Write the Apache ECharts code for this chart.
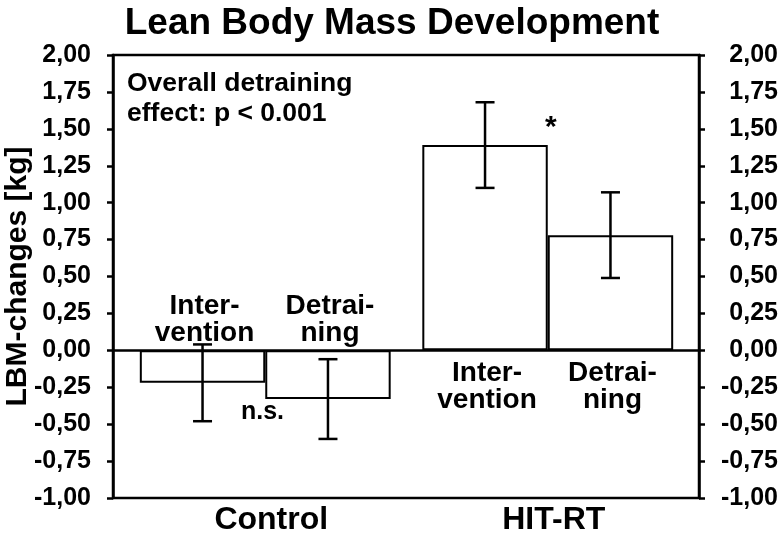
<!DOCTYPE html>
<html>
<head>
<meta charset="utf-8">
<script src="https://cdn.jsdelivr.net/npm/echarts@6/dist/echarts.min.js"></script>
<style>html,body{margin:0;padding:0;background:#fff}#c{width:784px;height:536px}</style>
</head>
<body>
<div id="c"></div>
<script>
const categories = ['Control', 'HIT-RT'];
const phaseLabels = ['Inter-\nvention', 'Detrai-\nning'];
const interventionMean = [-0.22, 1.39];
const interventionErr = [0.26, 0.29];
const detrainingMean = [-0.33, 0.78];
const detrainingErr = [0.27, 0.29];
const yMin = -1, yMax = 2, yStep = 0.25;
const titleText = 'Lean Body Mass Development';
const yName = 'LBM-changes [kg]';
const noteText = 'Overall detraining\neffect: p < 0.001';
const nsText = 'n.s.';
const starText = '*';

const FF = '"Liberation Sans", Arial, sans-serif';
const chart = echarts.init(document.getElementById('c'), null, {renderer: 'canvas'});
const fmt = v => v.toFixed(2).replace('.', ',');
const BAR_FRAC = 0.444;

function errSeries(means, errs, sign) {
  return {
    type: 'custom', xAxisIndex: 1, yAxisIndex: 2, z: 5,
    data: categories.map((c, i) => [i, means[i], errs[i]]),
    renderItem: function (params, api) {
      const x = api.value(0), m = api.value(1), e = api.value(2);
      const band = api.size([1, 0])[0];
      const off = sign * band * BAR_FRAC / 2;
      const t = api.coord([x, m + e]), b = api.coord([x, m - e]);
      const cx = t[0] + off, hw = 9.5;
      const st = {stroke: '#000', lineWidth: 2.5};
      return {type: 'group', children: [
        {type: 'line', shape: {x1: cx, y1: t[1], x2: cx, y2: b[1]}, style: st},
        {type: 'line', shape: {x1: cx - hw, y1: t[1], x2: cx + hw, y2: t[1]}, style: st},
        {type: 'line', shape: {x1: cx - hw, y1: b[1], x2: cx + hw, y2: b[1]}, style: st}
      ]};
    }
  };
}
function labelSeries(means, text, sign) {
  return {
    type: 'custom', xAxisIndex: 1, yAxisIndex: 2, z: 6,
    data: categories.map((c, i) => [i, means[i]]),
    renderItem: function (params, api) {
      const x = api.value(0), m = api.value(1);
      const band = api.size([1, 0])[0];
      const off = sign * band * BAR_FRAC / 2;
      const p = api.coord([x, 0]);
      const above = m < 0;
      return {type: 'text', style: {
        text: text, x: p[0] + off + 2, y: above ? p[1] - 4 : p[1] + 9,
        align: 'center', verticalAlign: above ? 'bottom' : 'top',
        fill: '#000', font: 'bold 28px ' + FF, lineHeight: 27
      }};
    }
  };
}

const labelStyle = {color: '#000', fontSize: 25, fontWeight: 'bold', fontFamily: FF};

chart.setOption({
  backgroundColor: '#fff',
  animation: false,
  title: {text: titleText, left: 'center', top: 0,
    textStyle: {color: '#000', fontSize: 37, fontWeight: 'bold', fontFamily: FF}},
  grid: [
    {left: 113, right: 85, top: 55, bottom: 38, containLabel: false, outerBoundsMode: 'none',
      show: true, borderColor: '#000', borderWidth: 2.5, backgroundColor: 'transparent'},
    {left: 124, right: 95, top: 55, bottom: 38, containLabel: false, outerBoundsMode: 'none'}
  ],
  xAxis: [
    {gridIndex: 0, type: 'value', min: 0, max: 1,
      axisLine: {show: true, onZero: true, lineStyle: {color: '#000', width: 2.5}},
      axisTick: {show: false}, axisLabel: {show: false}, splitLine: {show: false}},
    {gridIndex: 1, type: 'category', data: categories,
      axisLine: {show: false}, axisTick: {show: false}, splitLine: {show: false},
      axisLabel: {color: '#000', fontSize: 32, fontWeight: 'bold', fontFamily: FF, margin: 6, padding: [0, 0, 0, 12]}}
  ],
  yAxis: [
    {gridIndex: 0, type: 'value', position: 'left', min: yMin, max: yMax, interval: yStep,
      axisLine: {show: true, lineStyle: {color: '#000', width: 2.5}},
      axisTick: {show: true, inside: false, length: 6, lineStyle: {color: '#000', width: 2.5}},
      axisLabel: Object.assign({formatter: fmt, margin: 22}, labelStyle),
      splitLine: {show: false},
      name: yName, nameLocation: 'middle', nameGap: 80, nameMoveOverlap: false,
      nameTextStyle: {color: '#000', fontSize: 30, fontWeight: 'bold', fontFamily: FF}},
    {gridIndex: 0, type: 'value', position: 'right', min: yMin, max: yMax, interval: yStep,
      axisLine: {show: true, lineStyle: {color: '#000', width: 2.5}},
      axisTick: {show: true, inside: false, length: 6, lineStyle: {color: '#000', width: 2.5}},
      axisLabel: Object.assign({formatter: fmt, margin: 79, align: 'right'}, labelStyle),
      splitLine: {show: false}},
    {gridIndex: 1, type: 'value', min: yMin, max: yMax, interval: yStep, show: false}
  ],
  series: [
    {type: 'bar', name: 'Intervention', xAxisIndex: 1, yAxisIndex: 2, data: interventionMean,
      barWidth: (BAR_FRAC * 100) + '%', barGap: '0%',
      itemStyle: {color: '#fff', borderColor: '#000', borderWidth: 2}},
    {type: 'bar', name: 'Detraining', xAxisIndex: 1, yAxisIndex: 2, data: detrainingMean,
      barWidth: (BAR_FRAC * 100) + '%', barGap: '0%',
      itemStyle: {color: '#fff', borderColor: '#000', borderWidth: 2}},
    errSeries(interventionMean, interventionErr, -1),
    errSeries(detrainingMean, detrainingErr, 1),
    labelSeries(interventionMean, phaseLabels[0], -1),
    labelSeries(detrainingMean, phaseLabels[1], 1)
  ],
  graphic: [
    {type: 'text', left: 127, top: 69, z: 10,
      style: {text: noteText, fill: '#000', font: 'bold 26.5px ' + FF, lineHeight: 30}},
    {type: 'text', left: 241, top: 400, z: 10,
      style: {text: nsText, fill: '#000', font: 'bold 25px ' + FF}},
    {type: 'text', left: 545, top: 113, z: 10,
      style: {text: starText, fill: '#000', font: 'bold 30px ' + FF}}
  ]
});
</script>
</body>
</html>
